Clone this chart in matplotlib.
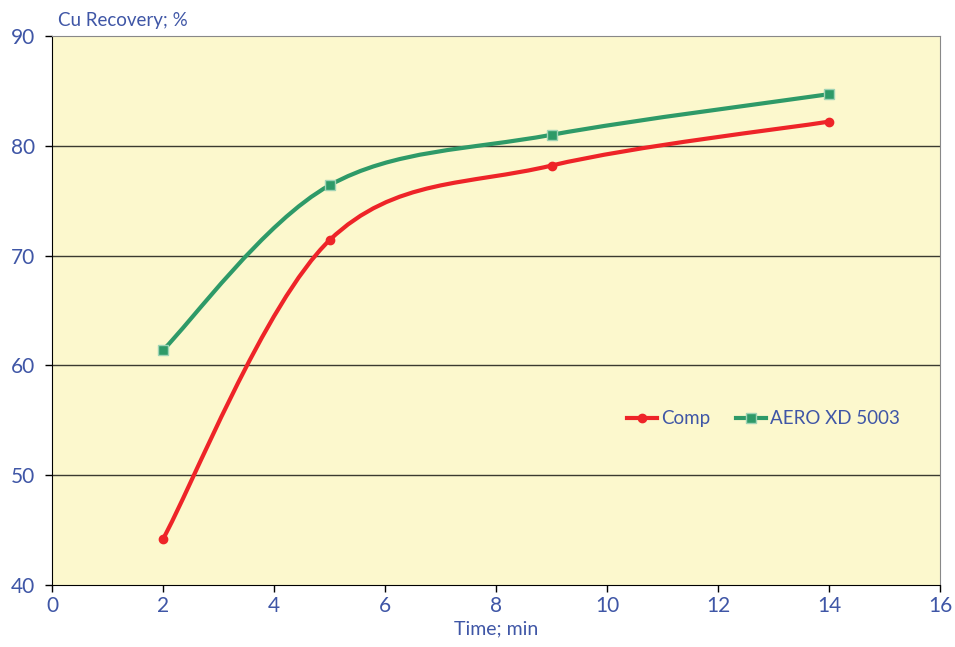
import matplotlib.pyplot as plt
from matplotlib.path import Path
from matplotlib.patches import PathPatch
import numpy as np

# data
time_min = [2, 5, 9, 14]
comp = [44.2, 71.4, 78.2, 82.2]
aero = [61.4, 76.4, 81.0, 84.7]
series_names = ['Comp', 'AERO XD 5003']

blue = '#3F56A6'
red = '#EE2428'
green = '#2E9A68'
plt.rcParams['font.family'] = ['Lato', 'DejaVu Sans']


def smooth_path(xs, ys):
    # excel-like smoothed line: bezier segments through the points
    p = np.column_stack([xs, ys]).astype(float)
    pts = np.vstack([p[0], p, p[-1]])
    verts = [p[0]]
    codes = [Path.MOVETO]
    for i in range(1, len(pts) - 2):
        c1 = pts[i] + (pts[i + 1] - pts[i - 1]) / 6
        c2 = pts[i + 1] - (pts[i + 2] - pts[i]) / 6
        verts += [c1, c2, pts[i + 1]]
        codes += [Path.CURVE4] * 3
    return Path(verts, codes)


fig = plt.figure(figsize=(9.55, 6.47), dpi=100)
ax = fig.add_axes([0.0545, 0.0958, 0.9298, 0.8486])
ax.set_facecolor('#FCF8CD')

for ys, col in [(comp, red), (aero, green)]:
    ax.add_patch(PathPatch(smooth_path(time_min, ys), facecolor='none',
                           edgecolor=col, lw=3, capstyle='round', zorder=3))

ax.plot(time_min, comp, 'o', color=red, ms=6, zorder=4)
ax.plot(time_min, aero, 's', color=green, mec='#9FD3B5', mew=1, ms=7, zorder=4)

# legend handles
h1, = ax.plot([], [], '-o', color=red, lw=3, ms=6)
h2, = ax.plot([], [], '-s', color=green, lw=3, ms=7, mec='#9FD3B5', mew=1)
leg = ax.legend([h1, h2], series_names, ncol=2, frameon=False,
                loc='center left', bbox_to_anchor=(0.637, 0.303),
                fontsize=13.5, handlelength=1.6, handletextpad=0.2,
                columnspacing=1.4, borderpad=0)
for t in leg.get_texts():
    t.set_color(blue)

ax.set_xlim(0, 16)
ax.set_ylim(40, 90)
ax.set_xticks(range(0, 17, 2))
ax.set_yticks(range(40, 91, 10))
for y in [50, 60, 70, 80]:
    ax.axhline(y, color='#3a3a30', lw=1, zorder=1)

ax.spines['left'].set_color('black')
ax.spines['bottom'].set_color('black')
ax.spines['top'].set_color('#888888')
ax.spines['right'].set_color('#888888')
ax.tick_params(axis='both', direction='out', length=5, width=1,
               colors='black', labelcolor=blue, labelsize=15)
ax.tick_params(axis='y', pad=7)
ax.tick_params(axis='x', pad=3)

fig.text(0.061, 0.968, 'Cu Recovery; %', color=blue, fontsize=13.5, va='center')
ax.set_xlabel('Time; min', color=blue, fontsize=14, labelpad=3)

fig.savefig('out.png', dpi=100)
